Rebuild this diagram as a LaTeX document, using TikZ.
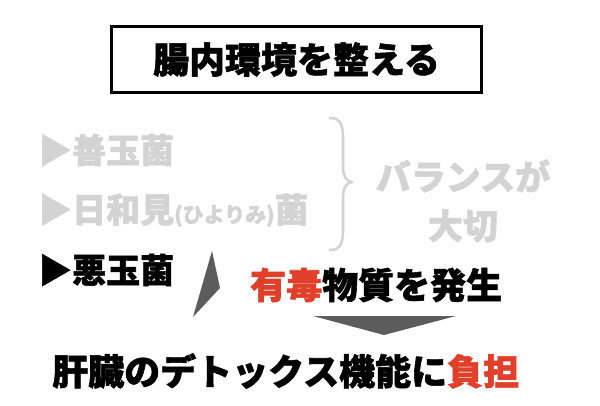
\documentclass[tikz,border=0pt]{standalone}
\usepackage{fontspec}
\newfontfamily\jp{Noto Sans CJK JP}[BoldFeatures={FakeBold=1.5}]
\definecolor{lgray}{RGB}{211,211,211}
\definecolor{dgray}{RGB}{92,92,92}
\definecolor{hred}{RGB}{224,64,42}
\begin{document}
\begin{tikzpicture}[x=1pt,y=-1pt,
  txt/.style={inner sep=0pt, anchor=west},
  big/.style={font=\jp\bfseries\fontsize{36}{40}\selectfont},
  mid/.style={font=\jp\bfseries\fontsize{34}{40}\selectfont},
  bal/.style={font=\jp\bfseries\fontsize{35}{49}\selectfont},
  brace/.style={draw=lgray, line width=2.6pt, line cap=round, line join=round}]
\useasboundingbox (0,0) rectangle (600,406);
\fill[white] (0,0) rectangle (600,406);
% title box
\node[draw, line width=3pt, minimum width=370pt, minimum height=66pt, inner sep=0pt, big] (title) at (296.5,59.5) {腸内環境を整える};
% bacteria rows
\node[txt, mid, text=lgray] (good) at (38,150) {▶善玉菌};
\node[txt, mid, text=lgray] (neutral) at (38,210) {▶日和見{\fontsize{21}{24}\selectfont(ひよりみ)}菌};
\node[txt, mid, text=black] (bad) at (38,270) {▶悪玉菌};
% brace
\coordinate (bt) at (330,118);
\coordinate (bc) at (352,182);
\coordinate (bb) at (330,250);
\draw[brace] (bt) .. controls (340,118) and (343,124) .. (343,138)
  -- (343,166) .. controls (343,176) and (346,181) .. (bc)
  .. controls (346,183) and (343,188) .. (343,198)
  -- (343,230) .. controls (343,244) and (340,250) .. (bb);
\node[inner sep=0pt, align=center, bal, text=lgray] (balance) at (463,201) {バランスが\\大切};
% toxic
\node[txt, big] (toxic) at (250,285) {\textcolor{hred}{有毒}物質を発生};
\node[txt, big] (burden) at (52,371) {肝臓のデトックス機能に\textcolor{hred}{負担}};
% arrow shapes
\coordinate (up1) at (212,251);
\coordinate (up2) at (220,288);
\coordinate (up3) at (193,317);
\fill[dgray] (up1) -- (up2) -- (up3) -- cycle;
\coordinate (dn1) at (313,316);
\coordinate (dn2) at (456,316);
\coordinate (dn3) at (384,335);
\fill[dgray] (dn1) -- (dn2) -- (dn3) -- cycle;
\end{tikzpicture}
\end{document}
